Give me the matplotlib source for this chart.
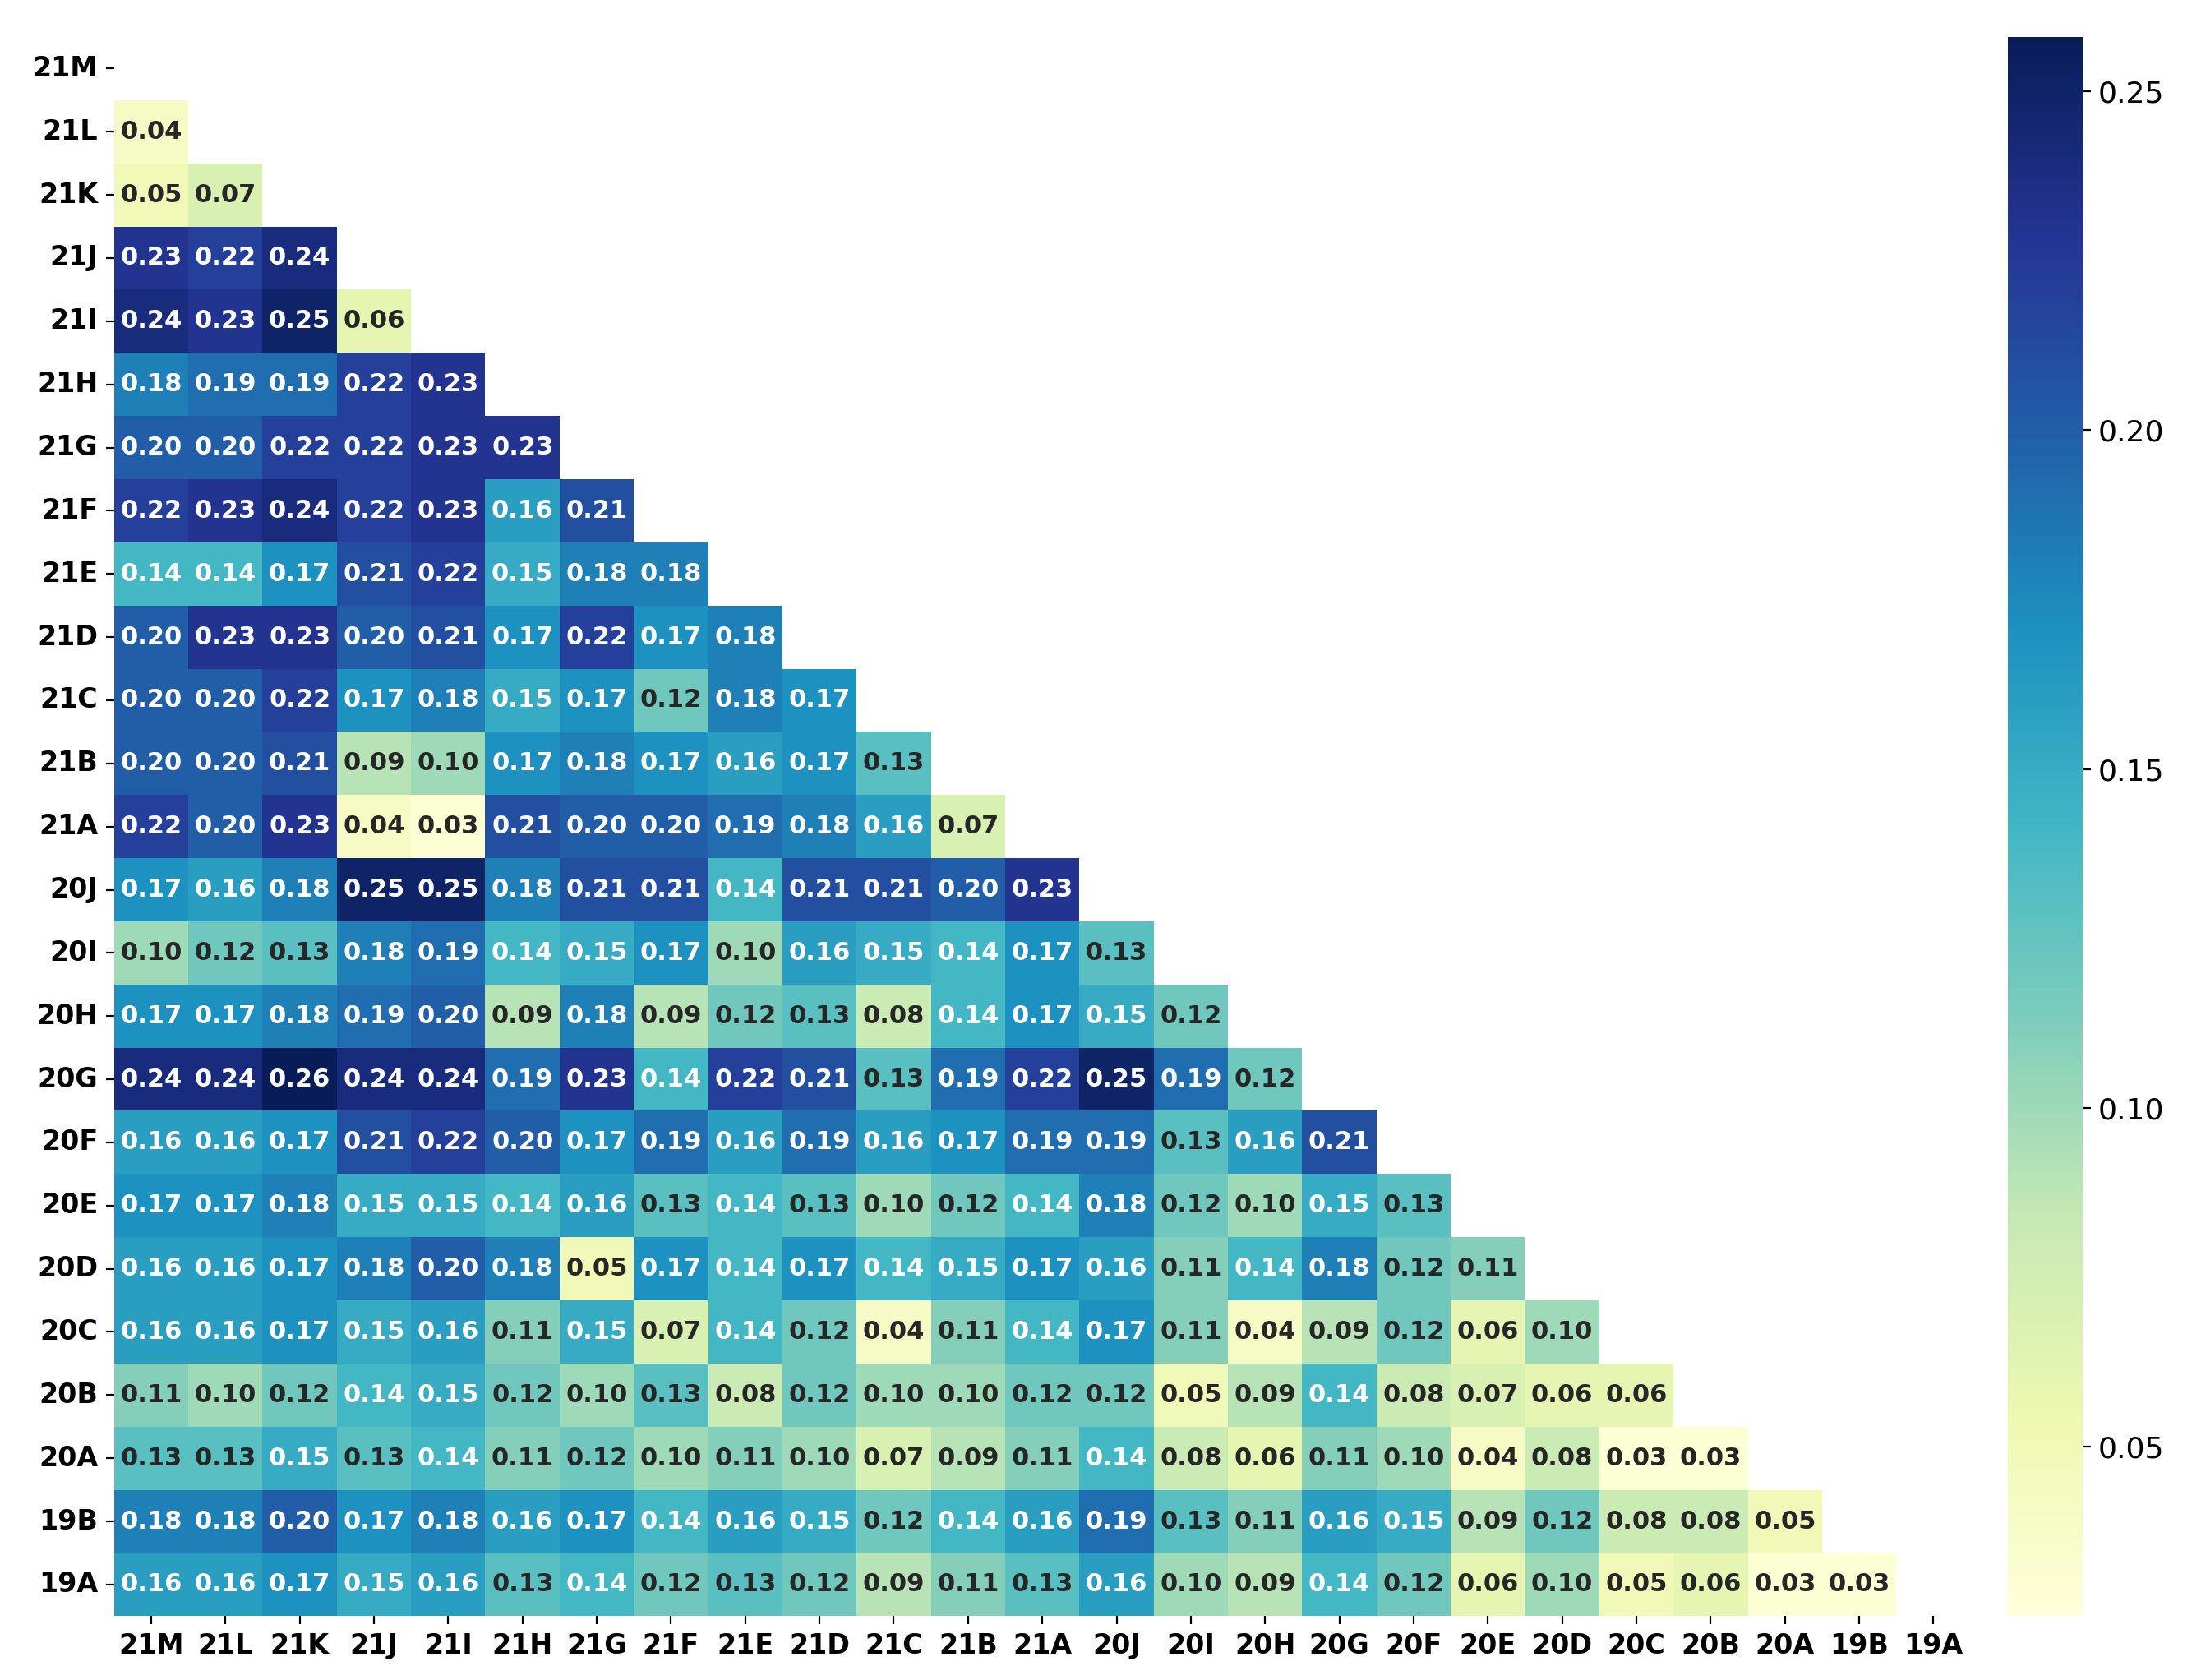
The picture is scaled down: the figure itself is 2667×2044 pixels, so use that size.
import numpy as np
import matplotlib
matplotlib.use("Agg")
import matplotlib.pyplot as plt
import seaborn as sns

labels = ["21M","21L","21K","21J","21I","21H","21G","21F","21E","21D","21C","21B","21A",
          "20J","20I","20H","20G","20F","20E","20D","20C","20B","20A","19B","19A"]

rows = [
 [],
 [0.04],
 [0.05,0.07],
 [0.23,0.22,0.24],
 [0.24,0.23,0.25,0.06],
 [0.18,0.19,0.19,0.22,0.23],
 [0.20,0.20,0.22,0.22,0.23,0.23],
 [0.22,0.23,0.24,0.22,0.23,0.16,0.21],
 [0.14,0.14,0.17,0.21,0.22,0.15,0.18,0.18],
 [0.20,0.23,0.23,0.20,0.21,0.17,0.22,0.17,0.18],
 [0.20,0.20,0.22,0.17,0.18,0.15,0.17,0.12,0.18,0.17],
 [0.20,0.20,0.21,0.09,0.10,0.17,0.18,0.17,0.16,0.17,0.13],
 [0.22,0.20,0.23,0.04,0.03,0.21,0.20,0.20,0.19,0.18,0.16,0.07],
 [0.17,0.16,0.18,0.25,0.25,0.18,0.21,0.21,0.14,0.21,0.21,0.20,0.23],
 [0.10,0.12,0.13,0.18,0.19,0.14,0.15,0.17,0.10,0.16,0.15,0.14,0.17,0.13],
 [0.17,0.17,0.18,0.19,0.20,0.09,0.18,0.09,0.12,0.13,0.08,0.14,0.17,0.15,0.12],
 [0.24,0.24,0.26,0.24,0.24,0.19,0.23,0.14,0.22,0.21,0.13,0.19,0.22,0.25,0.19,0.12],
 [0.16,0.16,0.17,0.21,0.22,0.20,0.17,0.19,0.16,0.19,0.16,0.17,0.19,0.19,0.13,0.16,0.21],
 [0.17,0.17,0.18,0.15,0.15,0.14,0.16,0.13,0.14,0.13,0.10,0.12,0.14,0.18,0.12,0.10,0.15,0.13],
 [0.16,0.16,0.17,0.18,0.20,0.18,0.05,0.17,0.14,0.17,0.14,0.15,0.17,0.16,0.11,0.14,0.18,0.12,0.11],
 [0.16,0.16,0.17,0.15,0.16,0.11,0.15,0.07,0.14,0.12,0.04,0.11,0.14,0.17,0.11,0.04,0.09,0.12,0.06,0.10],
 [0.11,0.10,0.12,0.14,0.15,0.12,0.10,0.13,0.08,0.12,0.10,0.10,0.12,0.12,0.05,0.09,0.14,0.08,0.07,0.06,0.06],
 [0.13,0.13,0.15,0.13,0.14,0.11,0.12,0.10,0.11,0.10,0.07,0.09,0.11,0.14,0.08,0.06,0.11,0.10,0.04,0.08,0.03,0.03],
 [0.18,0.18,0.20,0.17,0.18,0.16,0.17,0.14,0.16,0.15,0.12,0.14,0.16,0.19,0.13,0.11,0.16,0.15,0.09,0.12,0.08,0.08,0.05],
 [0.16,0.16,0.17,0.15,0.16,0.13,0.14,0.12,0.13,0.12,0.09,0.11,0.13,0.16,0.10,0.09,0.14,0.12,0.06,0.10,0.05,0.06,0.03,0.03],
]

n = len(labels)
M = np.full((n, n), np.nan)
for i, r in enumerate(rows):
    for j, v in enumerate(r):
        M[i, j] = v
mask = np.isnan(M)

fig = plt.figure(figsize=(13.335, 10.22), dpi=200)
ax = fig.add_axes([0.052, 0.038, 0.847, 0.94])
cax = fig.add_axes([0.916, 0.038, 0.034, 0.94])
sns.heatmap(M, mask=mask, cmap="YlGnBu", vmin=0.025, vmax=0.258, annot=True, fmt=".2f",
            annot_kws={"fontsize": 11, "fontweight": "bold"}, ax=ax, cbar_ax=cax,
            xticklabels=labels, yticklabels=labels)
ax.set_xticklabels(labels, rotation=0, fontsize=12, fontweight="bold")
ax.set_yticklabels(labels, rotation=0, fontsize=12, fontweight="bold")
cax.set_yticks([0.05, 0.10, 0.15, 0.20, 0.25])
cax.set_yticklabels(["0.05", "0.10", "0.15", "0.20", "0.25"], fontsize=13)
fig.savefig("out.png", dpi=200)
